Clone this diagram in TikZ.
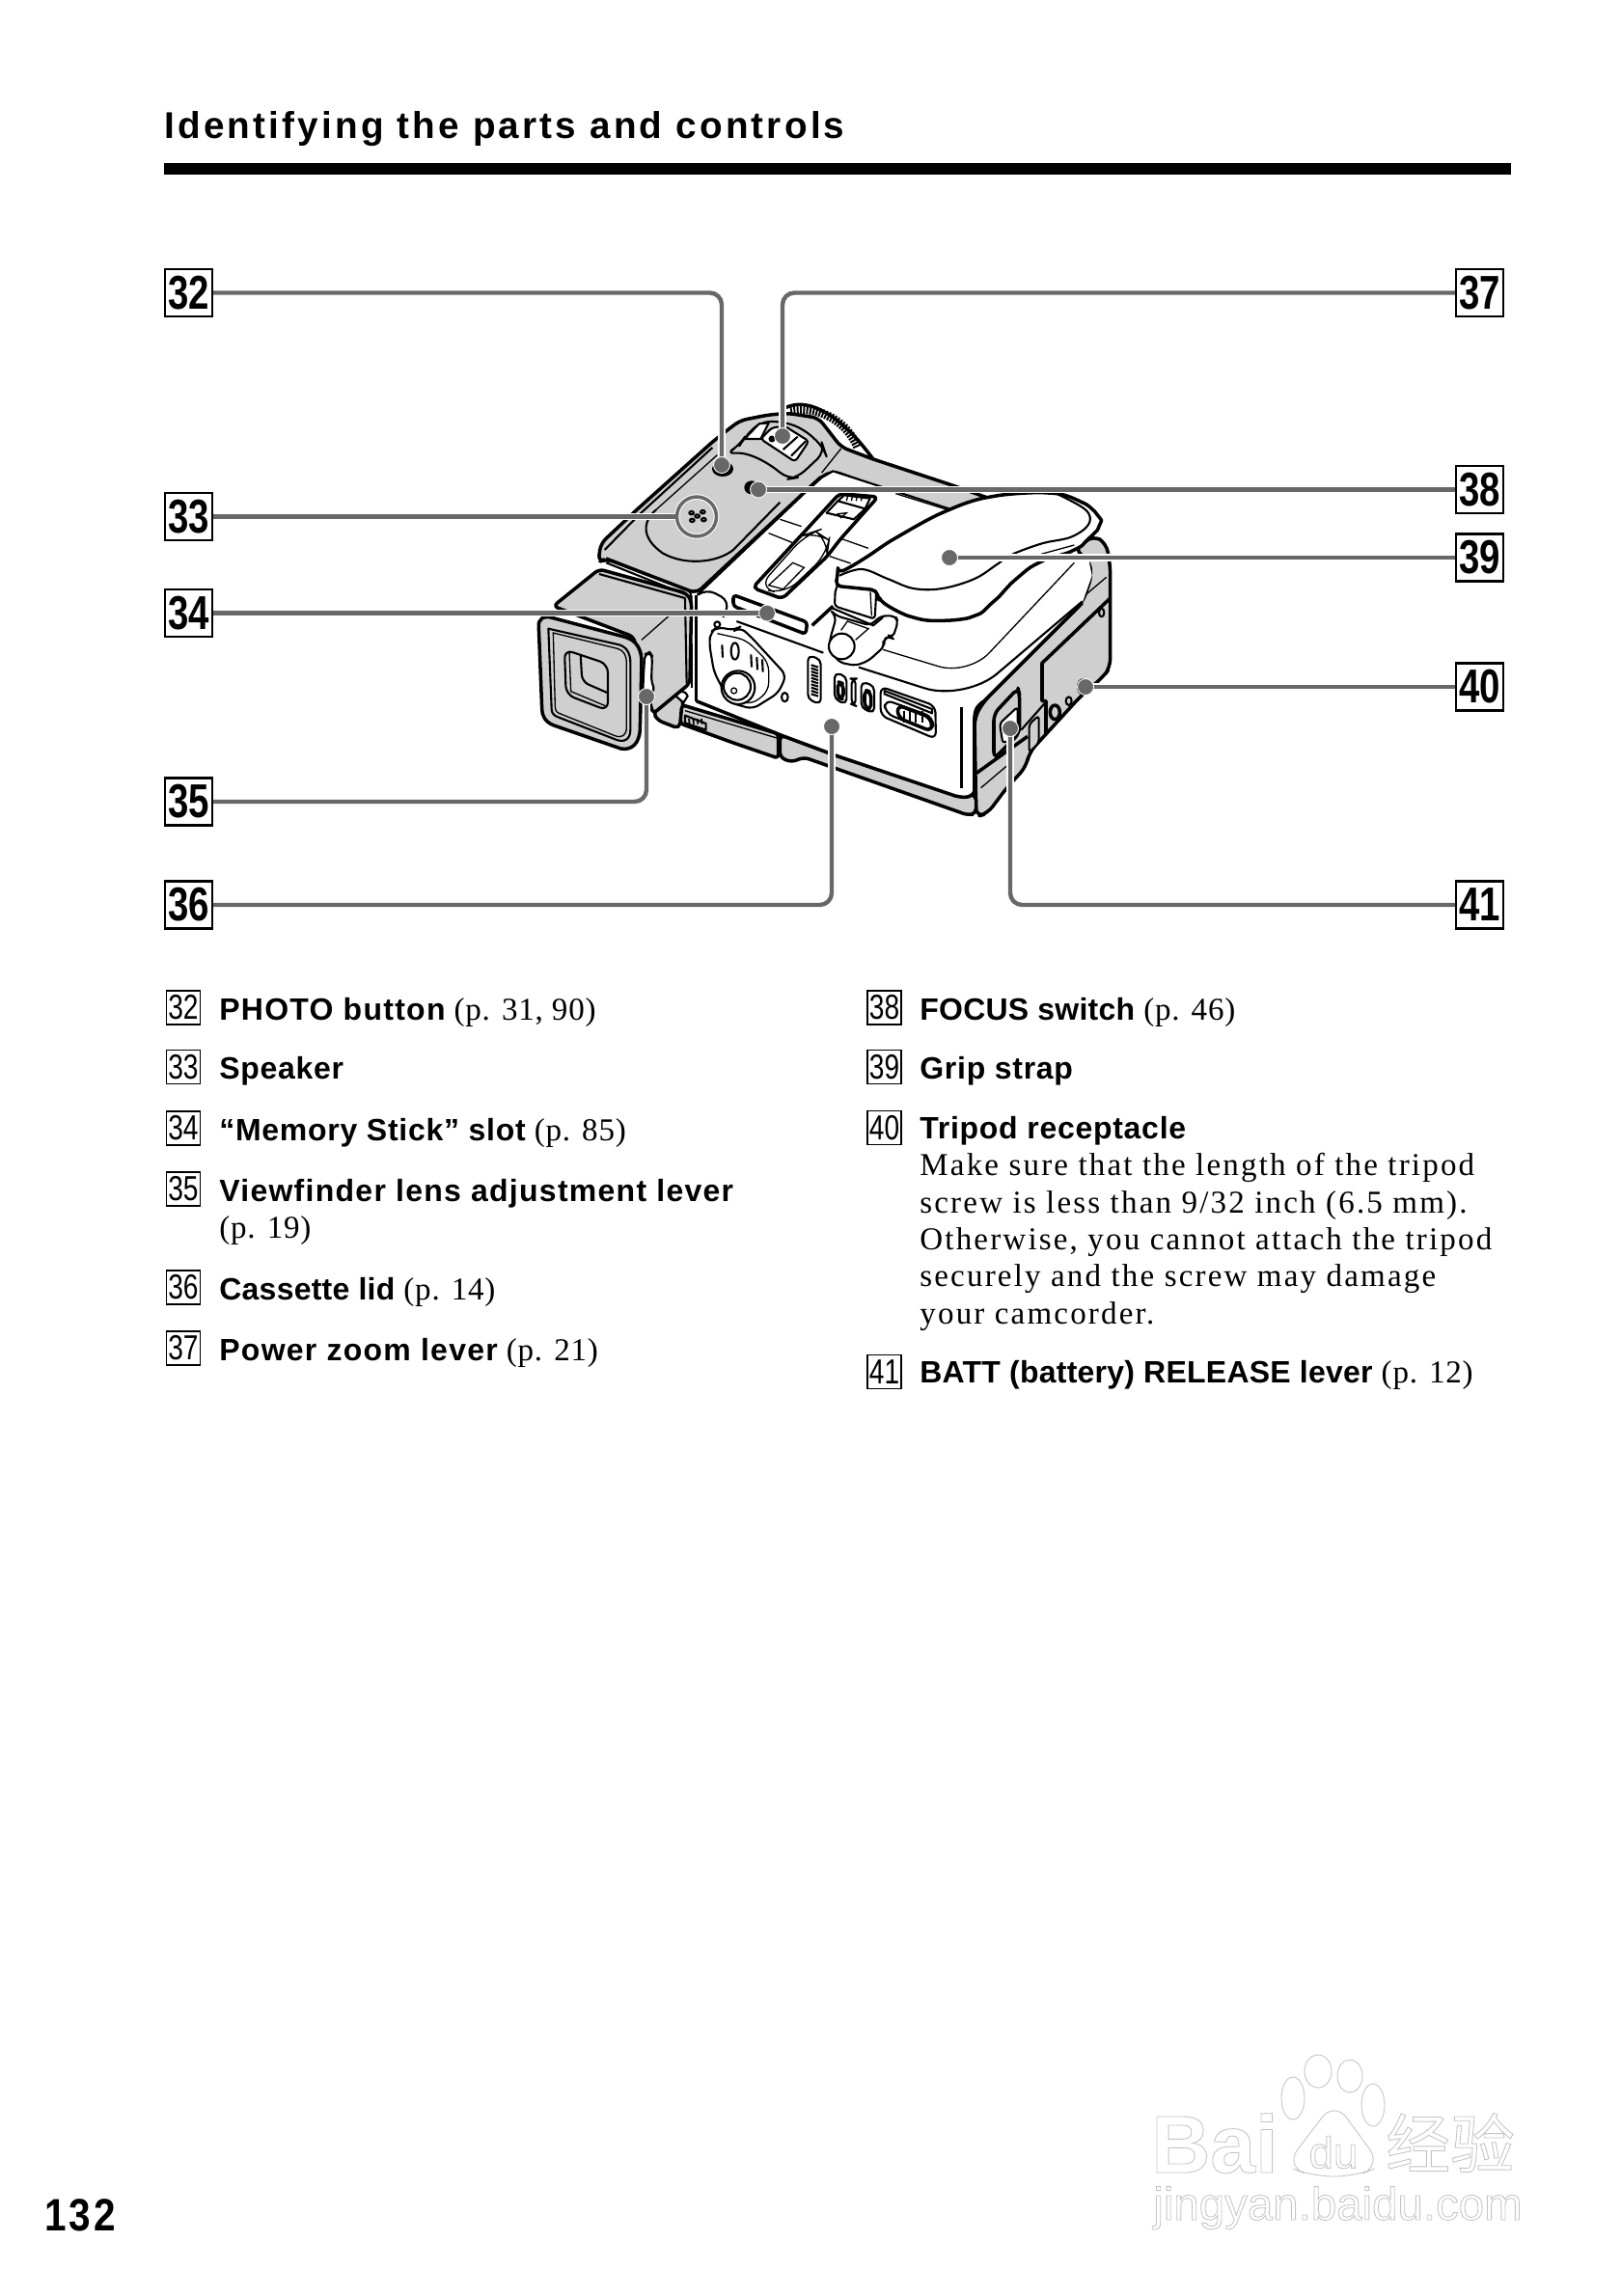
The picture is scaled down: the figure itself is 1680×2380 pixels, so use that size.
\documentclass[tikz,border=0pt]{standalone}
\usepackage{fontspec}
\usetikzlibrary{positioning}
\newfontfamily\serifbody[LetterSpace=2.4]{Liberation Serif}
\newfontfamily\serifwide[LetterSpace=6.6]{Liberation Serif}
\newfontfamily\sanslabel[LetterSpace=2.3]{Liberation Sans}
\newfontfamily\sanswide[LetterSpace=4]{Liberation Sans}
\newfontfamily\sanstight[LetterSpace=0.8]{Liberation Sans}
\newfontfamily\sanshead[LetterSpace=8.3]{Liberation Sans}
\newfontfamily\digitface[FakeStretch=0.78]{Liberation Sans}
\newfontfamily\pageface[FakeStretch=0.86,LetterSpace=6]{Liberation Sans}
\newfontfamily\markface{Liberation Sans}
\newfontfamily\markcjk{Noto Sans CJK SC}
\definecolor{leadergray}{HTML}{686868}
\definecolor{panelgray}{HTML}{CFCFCF}
\definecolor{markgray}{HTML}{C4C4C4}
\newcommand{\bodysize}{\serifbody\fontsize{18.8}{22}\selectfont}
\newcommand{\notesize}{\serifwide\fontsize{18.8}{22}\selectfont}
\newcommand{\lab}[1]{{\sanslabel\bfseries\fontsize{18.2}{22}\selectfont #1}}
\newcommand{\labwide}[1]{{\sanswide\bfseries\fontsize{18.2}{22}\selectfont #1}}
\newcommand{\labtight}[1]{{\sanstight\bfseries\fontsize{18.2}{22}\selectfont #1}}
\newcommand{\hollow}[1]{\special{pdf:code 1 Tr 0.5 w}#1\special{pdf:code 0 Tr}}

\begin{document}
\begin{tikzpicture}[
  x=0.02cm,
  y=-0.02cm,
  every node/.style={inner sep=0pt},
  heavyline/.style={line width=2pt,line join=round},
  midline/.style={line width=1.2pt,line join=round},
  fineline/.style={line width=0.75pt},
  panel/.style={fill=panelgray,draw=black,heavyline},
  whitepart/.style={fill=white,draw=black,midline},
  leader/.style={draw=leadergray,line width=2.5pt,rounded corners=7pt,preaction={draw=white,line width=4.3pt}},
  pointer/.style={circle,fill=leadergray,draw=white,line width=0.5pt,minimum size=0.34cm},
  speakerring/.style={circle,draw=leadergray,line width=2pt,minimum size=0.82cm,preaction={draw=white,line width=3.2pt}},
  badge/.style={draw=black,line width=1.4pt,minimum width=0.98cm,minimum height=0.98cm,font=\digitface\bfseries\fontsize{28}{28}\selectfont},
  smallbadge/.style={draw=black,line width=0.7pt,minimum width=0.7cm,minimum height=0.7cm,font=\digitface\fontsize{20.5}{21}\selectfont},
  itemline/.style={anchor=base west,font=\bodysize},
  noteline/.style={anchor=base west,font=\notesize},
  zseven/.style={shift={(600,400)},x=0.006667cm,y=-0.006667cm},
  zeight/.style={shift={(540,600)},x=0.006667cm,y=-0.006667cm},
  znine/.style={shift={(720,620)},x=0.006667cm,y=-0.006667cm},
  zten/.style={shift={(880,500)},x=0.006667cm,y=-0.006667cm}
]
\useasboundingbox (0,0) rectangle (1680,2380);

% Heading
\node[anchor=base west,font=\sanshead\bfseries\fontsize{22}{24}\selectfont] (title) at (170,143) {Identifying the parts and controls};
\fill (170,169) rectangle (1566,181);

% Lens and top plate
\begin{scope}[zseven]
\draw[heavyline] plot[smooth,tension=.7] coordinates {(625,75) (690,58) (770,85) (850,150) (915,228)};
\foreach \a in {24,27,...,99}
  \draw[line width=1.1pt] ({690+205*cos(\a)},{265-205*sin(\a)}) -- ({690+178*cos(\a)},{265-178*sin(\a)});
\draw[panel,rounded corners=4pt] (60,548) -- (68,490) -- (180,385) -- (420,170) -- (500,108) -- (590,90) -- (650,85) -- (745,100) -- (815,190) -- (915,228) -- (1170,312) -- (1290,355) -- (1150,395) -- (790,265) -- (750,285) -- (365,645) -- (85,538) -- cycle;
\end{scope}

% Side panel, body, bottom strip
\begin{scope}[zten]
\draw[panel,rounded corners=5pt] (395,1040) -- (390,730) -- (420,680) -- (725,375) -- (755,290) -- (745,240) -- (700,210) -- (760,165) -- (800,190) -- (812,260) -- (812,575) -- (790,605) -- (720,665) -- (560,840) -- (550,885) -- (490,950) -- (430,1030) -- cycle;
\end{scope}
\begin{scope}[znine]
\draw[panel,rounded corners=3pt] (265,425) -- (440,490) -- (820,612) -- (875,612) -- (875,670) -- (850,675) -- (340,495) -- (300,510) -- (265,495) -- cycle;
\end{scope}
\begin{scope}[zten]
\fill[white] (-472,350) -- (-140,35) -- (-85,-15) -- (-50,-35) -- (320,85) -- (745,240) -- (755,290) -- (725,375) -- (420,680) -- (395,710) -- (390,960) -- (375,975) -- (330,975) -- (-40,850) -- (-215,785) -- (-475,680) -- cycle;
\draw[heavyline] (-475,680) -- (-215,785) -- (-40,850) -- (330,975) .. controls (370,985) and (385,975) .. (390,960) -- (390,730) .. controls (392,700) and (405,690) .. (420,680) -- (725,375);
\draw[midline] (-472,350) -- (-140,35) -- (-85,-15) -- (-50,-35) -- (320,85);
\draw[heavyline] (350,700) -- (350,950);
\draw[fineline,rounded corners=18pt] (105,520) -- (370,600) -- (700,250);
\draw[midline,rounded corners=25pt] (30,575) -- (360,680) -- (725,370);
\draw[fineline] (735,350) -- (800,295);
\end{scope}

% Viewfinder and front strip
\begin{scope}[zeight]
\draw[panel,rounded corners=3pt] (410,415) -- (425,440) -- (492,466) -- (505,385) -- (490,345) -- cycle;
\draw[whitepart] (482,365) .. controls (490,345) and (510,345) .. (518,365) -- (505,385) -- cycle;
\draw[panel,rounded corners=3pt] (100,85) -- (243,-30) -- (515,45) -- (530,70) -- (525,325) -- (410,420) -- (350,180) -- cycle;
\draw[midline] (243,-15) -- (510,60) -- (515,325);
\draw[heavyline] (545,50) -- (545,380);
\draw[midline] (530,200) -- (530,340);
\draw[fineline] (375,190) -- (460,115);
\draw[panel] (55,150) .. controls (52,125) and (70,112) .. (100,122) -- (320,180) .. controls (360,190) and (375,220) .. (375,260) -- (370,470) .. controls (368,510) and (345,535) .. (310,528) -- (100,455) .. controls (75,445) and (65,425) .. (65,405) -- cycle;
\draw[midline] (85,155) -- (305,205) .. controls (330,212) and (340,235) .. (340,260) -- (340,470) .. controls (340,500) and (320,510) .. (295,500) -- (115,430) .. controls (100,425) and (95,415) .. (95,405) -- cycle;
\draw[fineline] (100,168) -- (300,217) .. controls (320,222) and (328,240) .. (328,260) -- (328,462) .. controls (328,488) and (312,496) .. (292,488) -- (118,418) .. controls (108,414) and (106,405) .. (106,398) -- cycle;
\draw[midline,rounded corners=5pt] (135,220) -- (270,265) -- (270,410) -- (140,360) -- cycle;
\draw[fineline] (150,225) -- (155,350) -- (262,395);
\draw[midline,rounded corners=4pt] (185,235) -- (190,320) -- (270,355);
\draw[fill=white,midline,rounded corners=3pt] (380,315) -- (385,235) -- (400,228) -- (408,240) -- (405,320) -- (418,350) -- (380,360) -- cycle;
\fill (378,385) rectangle (388,425);
\draw[panel,rounded corners=2pt] (500,392) -- (800,482) -- (800,558) -- (660,510) -- (495,450) -- cycle;
\draw[fineline] (510,410) -- (795,495);
\draw[whitepart,fill=panelgray] (510,425) -- (575,450) -- (575,470) -- (510,448) -- cycle;
\foreach \x in {522,535,548,561}
  \draw[line width=1pt] (\x,435) -- (\x+2,452);
\end{scope}

% Top plate details
\begin{scope}[zseven]
\draw[midline] (80,510) -- (190,398) -- (415,192);
\draw[midline,rounded corners=3pt] (85,535) -- (350,640) -- (350,700);
\draw[midline] (85,550) -- (335,650);
\draw[fineline] (240,385) -- (430,215);
\draw[midline] (240,385) .. controls (200,420) and (190,470) .. (260,520) .. controls (330,560) and (430,550) .. (480,510) -- (625,362);
\draw[midline,rounded corners=6pt] (455,212) .. controls (530,205) and (590,240) .. (650,290) -- (680,285) -- (765,205) -- (760,190) -- (700,135) -- (640,112) -- (565,110) -- (515,160) -- (500,185) -- cycle;
\draw[fill=white,midline] (515,165) -- (560,118) -- (590,115) -- (565,165) -- cycle;
\draw[fill=white,midline,rounded corners=2pt] (565,165) -- (600,130) -- (640,125) -- (715,172) -- (672,236) -- cycle;
\draw[midline] (635,198) -- (680,158);
\draw[midline] (660,218) -- (705,172);
\fill (600,165) circle[radius=2pt];
\draw[fineline] (815,195) -- (755,270);
\draw[midline] (725,310) -- (750,282);
% button
\fill (447,258) ellipse[x radius=33,y radius=24];
\fill[white] (446,250) ellipse[x radius=22,y radius=17];
% focus switch
\fill (537,316) ellipse[x radius=23,y radius=21];
% speaker holes
\foreach \px/\py in {350/395,385/392,368/405,352/418,388/416}
  \draw[midline] (\px,\py) ellipse[x radius=7,y radius=5];
% top thin lines
\draw[fineline] (625,415) -- (692,437);
\draw[fineline] (590,458) -- (670,490);
\draw[fineline] (815,475) -- (900,505);
\draw[fineline] (780,530) -- (845,552);
\draw[fineline] (985,335) -- (1145,385);
% slide
\draw[whitepart,heavyline,rounded corners=3pt] (540,628) -- (700,455) -- (810,335) -- (930,345) -- (810,480) -- (772,530) -- (632,662) -- cycle;
\draw[fineline,rounded corners=10pt] (557,628) -- (705,462) -- (735,452) -- (778,480) -- (772,522) -- (640,648) -- cycle;
\draw[fineline] (590,620) -- (665,550) -- (700,565) -- (635,632) -- cycle;
\draw[midline] (770,395) -- (805,358) -- (890,382) -- (855,415) -- cycle;
\draw[midline] (805,358) -- (825,340) -- (905,350) -- (890,382);
\foreach \x in {835,850,865,880}
  \draw[fineline] (\x,345) -- (\x-3,358);
\draw[fineline] (805,398) -- (832,395) -- (815,410) -- cycle;
% memory stick slot
\draw[whitepart,heavyline,rounded corners=2pt] (480,650) -- (710,735) -- (705,772) -- (480,685) -- cycle;
\draw[midline,rounded corners=6pt] (370,650) -- (395,630) -- (470,670) -- (448,720);
\draw[heavyline] (725,745) -- (790,685);
\end{scope}

% Dial and switches
\begin{scope}[zeight]
\draw[whitepart,rounded corners=4pt] (590,165) -- (610,150) -- (665,160) -- (680,150) -- (710,175) -- (825,300) -- (800,355) -- (720,405) -- (650,385) -- (600,290) -- (585,200) -- cycle;
\draw[fineline,rounded corners=5pt] (610,170) -- (700,190) -- (770,260) -- (770,350) -- (715,392) -- (665,375);
\draw[whitepart] (675,338) circle[radius=52];
\draw[midline] (672,335) circle[radius=42];
\draw[fineline] (662,348) circle[radius=9];
\foreach \x/\y in {625/205,715/235,733/243,750/250}
  \draw[midline] (\x,\y) -- (\x+2,\y+40);
\draw[midline] (665,225) ellipse[x radius=12,y radius=26];
\draw[midline] (820,368) ellipse[x radius=10,y radius=14];
\draw[midline] (610,142) circle[radius=9];
\end{scope}
\begin{scope}[znine]
\draw[midline,rounded corners=2pt] (130,72) -- (400,170);
\draw[whitepart,rounded corners=3pt] (352,178) -- (392,190) -- (392,330) -- (352,315) -- cycle;
\foreach \y in {208,218,...,298}
  \draw[midline] (362,\y) -- (384,\y+7);
\draw[whitepart,rounded corners=3pt] (435,232) -- (472,243) -- (472,330) -- (435,315) -- cycle;
\draw[heavyline,rounded corners=3pt] (445,260) -- (462,266) -- (462,315) -- (445,308) -- cycle;
\draw[midline,rounded corners=3pt] (488,250) -- (500,250) -- (500,335) -- (488,330) -- cycle;
\draw[whitepart,rounded corners=3pt] (518,260) -- (558,272) -- (558,358) -- (518,342) -- cycle;
\draw[heavyline,rounded corners=3pt] (528,285) -- (548,292) -- (548,348) -- (528,340) -- cycle;
\draw[whitepart,rounded corners=4pt] (578,275) -- (748,335) -- (750,438) -- (578,365) -- cycle;
\draw[midline] (590,288) -- (738,345) -- (738,358) -- (590,298) -- cycle;
\draw[midline,rounded corners=5pt] (590,315) -- (742,370) -- (742,417) -- (592,358) -- cycle;
\draw[heavyline,rounded corners=4pt] (630,332) -- (735,372) -- (738,415) -- (632,372) -- cycle;
\foreach \x in {652,668,688,708}
  \draw[midline] (\x,350) -- (\x,388);
\end{scope}

% Side panel details
\begin{scope}[zten]
\draw[heavyline] (810,362) -- (600,562) -- (600,680) -- (612,680) -- (612,785);
\draw[midline] (785,405) ellipse[x radius=8,y radius=13];
\draw[midline] (683,680) ellipse[x radius=9,y radius=13];
\draw[heavyline,fill=panelgray] (640,715) ellipse[x radius=15,y radius=22];
\fill (726,636) ellipse[x radius=18,y radius=26];
\draw[whitepart,heavyline,fill=panelgray,rounded corners=4pt] (450,860) -- (450,720) -- (525,640) -- (530,660) -- (530,780) -- cycle;
\draw[fill=white,midline,rounded corners=2pt] (468,750) -- (524,698) -- (524,790) -- (478,812) -- cycle;
\draw[heavyline] (395,905) -- (555,790);
\draw[fineline] (410,950) -- (510,865);
\draw[panel,midline,rounded corners=2pt] (560,840) -- (560,752) -- (590,725) -- (590,810) -- cycle;
\draw[midline] (535,770) -- (610,685);
\end{scope}

% Strap and buckle
\begin{scope}[znine]
\draw[whitepart,rounded corners=3pt] (420,35) -- (440,60) -- (420,130) -- (420,160) -- (450,200) -- (500,210) -- (540,195) -- (590,150) -- (585,130) -- (605,118) -- (615,125) -- (632,75) -- (625,55) -- (580,55) -- (545,85) -- (440,55) -- cycle;
\draw[fineline] (455,100) -- (475,72) -- (540,95) -- (500,130);
\draw[whitepart] (457,150) circle[radius=40];
\draw[fill=white,midline,rounded corners=2pt] (435,25) -- (437,-25) -- (450,-50) -- (565,-25) -- (560,65) -- cycle;
\draw[midline] (425,30) -- (555,85) -- (585,60);
\draw[fineline] (546,-20) -- (550,55);
\end{scope}
\begin{scope}[zten]
\draw[whitepart,heavyline,rounded corners=3pt] (-42,322) -- (-35,282) -- plot[smooth,tension=.6] coordinates {(-35,282) (0,265) (50,235) (150,170) (300,90) (440,45) (620,33) (720,60) (775,105) (778,135) (745,175) (700,210) (590,250) (520,300) (450,370) (390,415) (290,430) (200,420) (95,375)} -- (85,335) -- cycle;
\draw[midline] plot[smooth,tension=.6] coordinates {(-30,290) (40,270) (120,300) (200,330) (290,330) (390,300) (460,255) (505,225) (600,190) (690,170) (745,130) (735,85) (640,33)};
\draw[fineline] (590,225) -- (700,195);
\end{scope}

% Badges
\node[badge] (b32) at (195.5,303.5) {32};
\node[badge] (b33) at (195.5,535.5) {33};
\node[badge] (b34) at (195.5,635.5) {34};
\node[badge] (b35) at (195.5,831) {35};
\node[badge] (b36) at (195.5,938) {36};
\node[badge] (b37) at (1533.5,303.5) {37};
\node[badge] (b38) at (1533.5,507.5) {38};
\node[badge] (b39) at (1533.5,578) {39};
\node[badge] (b40) at (1533.5,712) {40};
\node[badge] (b41) at (1533.5,938) {41};

% Leaders
\node[speakerring] (s33) at (722,535.5) {};
\coordinate (p32) at (748,482);
\coordinate (p34) at (795,635.5);
\coordinate (p35) at (670,722);
\coordinate (p36) at (862,753);
\coordinate (p37) at (811,452);
\coordinate (p38) at (786,507.5);
\coordinate (p39) at (984,578);
\coordinate (p40) at (1125,712);
\coordinate (p41) at (1047,755);
\draw[leader] (b32.east) -| (p32);
\draw[leader] (b33.east) -- (s33.west);
\draw[leader] (b34.east) -- (p34);
\draw[leader] (b35.east) -| (p35);
\draw[leader] (b36.east) -| (p36);
\draw[leader] (b37.west) -| (p37);
\draw[leader] (b38.west) -- (p38);
\draw[leader] (b39.west) -- (p39);
\draw[leader] (b40.west) -- (p40);
\draw[leader] (b41.west) -| (p41);
\node[pointer] (d32) at (p32) {};
\node[pointer] (d34) at (p34) {};
\node[pointer] (d35) at (p35) {};
\node[pointer] (d36) at (p36) {};
\node[pointer] (d37) at (p37) {};
\node[pointer] (d38) at (p38) {};
\node[pointer] (d39) at (p39) {};
\node[pointer] (d40) at (p40) {};
\node[pointer] (d41) at (p41) {};

% Left column
\node[smallbadge] (k32) at (190,1044.5) {32};
\node[smallbadge] (k33) at (190,1106) {33};
\node[smallbadge] (k34) at (190,1169.5) {34};
\node[smallbadge] (k35) at (190,1232.5) {35};
\node[smallbadge] (k36) at (190,1334.5) {36};
\node[smallbadge] (k37) at (190,1397.5) {37};
\node[itemline] (t32) at (227,1057) {\labwide{PHOTO button} (p. 31, 90)};
\node[itemline] (t33) at (227,1118) {\lab{Speaker}};
\node[itemline] (t34) at (227,1182) {\lab{“Memory Stick” slot} (p. 85)};
\node[itemline] (t35) at (227,1245) {\labwide{Viewfinder lens adjustment lever}};
\node[itemline] (t35b) at (227,1283) {(p. 19)};
\node[itemline] (t36) at (227,1347) {\labtight{Cassette lid} (p. 14)};
\node[itemline] (t37) at (227,1410) {\labwide{Power zoom lever} (p. 21)};

% Right column
\node[smallbadge] (k38) at (916.5,1044.5) {38};
\node[smallbadge] (k39) at (916.5,1106) {39};
\node[smallbadge] (k40) at (916.5,1169) {40};
\node[smallbadge] (k41) at (916.5,1422) {41};
\node[itemline] (t38) at (953,1057) {\labtight{FOCUS switch} (p. 46)};
\node[itemline] (t39) at (953,1118) {\lab{Grip strap}};
\node[itemline] (t40) at (953,1180) {\lab{Tripod receptacle}};
\node[noteline] (t40a) at (953,1218) {Make sure that the length of the tripod};
\node[noteline] (t40b) at (953,1257) {screw is less than 9/32 inch (6.5 mm).};
\node[noteline] (t40c) at (953,1295) {Otherwise, you cannot attach the tripod};
\node[noteline] (t40d) at (953,1333) {securely and the screw may damage};
\node[noteline] (t40e) at (953,1372) {your camcorder.};
\node[itemline] (t41) at (953,1433) {\labtight{BATT (battery) RELEASE lever} (p. 12)};

% Page number
\node[anchor=base west,font=\pageface\bfseries\fontsize{26.8}{28}\selectfont] (folio) at (46,2312) {132};

% Watermark
\begin{scope}[draw=markgray,line width=0.5pt]
\draw (1366,2147) ellipse[x radius=14,y radius=17];
\draw (1399,2152) ellipse[x radius=13,y radius=17];
\draw (1340,2175) ellipse[x radius=12,y radius=22];
\draw (1423,2182) ellipse[x radius=12,y radius=22];
\draw[rounded corners=12pt] (1383,2178) -- (1432,2245) -- (1405,2256) -- (1360,2256) -- (1332,2245) -- cycle;
\end{scope}
\node[anchor=base west,text=markgray,font=\markface\bfseries\fontsize{48}{50}\selectfont] (markbai) at (1193,2252) {\hollow{Bai}};
\node[text=markgray,font=\markface\fontsize{26}{28}\selectfont] (markdu) at (1382,2231) {\hollow{du}};
\node[anchor=base west,text=markgray,font=\markcjk\fontsize{38}{40}\selectfont] (markcn) at (1436,2247) {\hollow{经验}};
\node[anchor=base west,text=markgray,font=\markface\fontsize{27}{29}\selectfont] (markurl) at (1195,2301) {\hollow{jingyan.baidu.com}};
\end{tikzpicture}
\end{document}
